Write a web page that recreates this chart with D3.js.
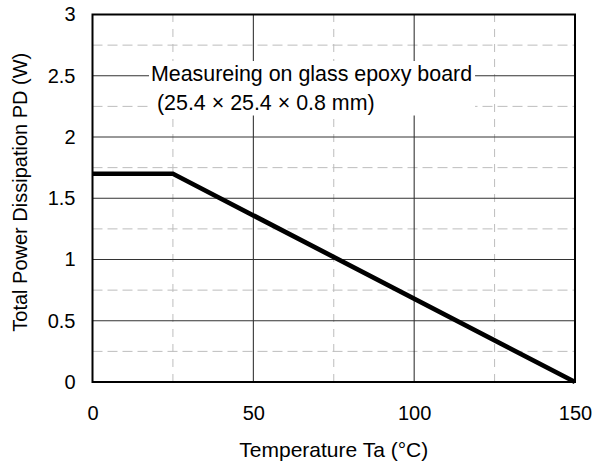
<!DOCTYPE html>
<html>
<head>
<meta charset="utf-8">
<script src="https://cdn.jsdelivr.net/npm/d3@7"></script>
<style>
  html, body { margin: 0; padding: 0; background: #fff; }
  svg { display: block; font-family: "Liberation Sans", Arial, sans-serif; }
</style>
</head>
<body>
<svg id="chart"></svg>
<script>
const width = 595,
  height = 466;

// derating curve: temperature (°C) vs total power dissipation (W)
const temps = [0, 25, 150];
const power = [1.7, 1.7, 0];

const xTicks = [0, 50, 100, 150];
const xMinor = [25, 75, 125];
const yTicks = [0, 0.5, 1, 1.5, 2, 2.5, 3];
const yMinor = [0.25, 0.75, 1.25, 1.75, 2.25, 2.75];

const xTitle = 'Temperature Ta (°C)';
const yTitle = 'Total Power Dissipation PD (W)';
const noteLines = ['Measureing on glass epoxy board', '(25.4 × 25.4 × 0.8 mm)'];

const margin = {top: 14.5, right: 20, bottom: 84, left: 92.5};

const x = d3.scaleLinear().domain([0, 150]).range([margin.left, width - margin.right]);
const y = d3.scaleLinear().domain([0, 3]).range([height - margin.bottom, margin.top]);

const svg = d3.select('#chart')
  .attr('width', width)
  .attr('height', height)
  .attr('viewBox', [0, 0, width, height]);

// minor dashed grid
svg.append('g')
  .selectAll('line')
  .data(xMinor)
  .join('line')
  .attr('x1', d => x(d)).attr('x2', d => x(d))
  .attr('y1', y(0)).attr('y2', y(3))
  .attr('stroke', '#bdbdbd').attr('stroke-dasharray', '8,7');

svg.append('g')
  .selectAll('line')
  .data(yMinor)
  .join('line')
  .attr('x1', x(0)).attr('x2', x(150))
  .attr('y1', d => y(d)).attr('y2', d => y(d))
  .attr('stroke', '#bdbdbd').attr('stroke-dasharray', '10,5');

// major solid grid
svg.append('g')
  .selectAll('line')
  .data(xTicks.slice(1, -1))
  .join('line')
  .attr('x1', d => x(d)).attr('x2', d => x(d))
  .attr('y1', y(0)).attr('y2', y(3))
  .attr('stroke', '#222');

svg.append('g')
  .selectAll('line')
  .data(yTicks.slice(1, -1))
  .join('line')
  .attr('x1', x(0)).attr('x2', x(150))
  .attr('y1', d => y(d)).attr('y2', d => y(d))
  .attr('stroke', '#333');

// note box (white background covers the grid)
const note = svg.append('g');
const noteText = note.append('text')
  .attr('font-size', 21.4)
  .attr('fill', '#000');
noteText.selectAll('tspan')
  .data(noteLines)
  .join('tspan')
  .attr('x', (d, i) => i === 0 ? 151 : 157)
  .attr('y', (d, i) => 81 + i * 28.5)
  .text(d => d);
const bb = noteText.node().getBBox();
note.insert('rect', 'text')
  .attr('x', bb.x - 2)
  .attr('y', bb.y - 1)
  .attr('width', bb.width + 5)
  .attr('height', bb.height + 2)
  .attr('fill', '#fff');

// frame
svg.append('rect')
  .attr('x', x(0)).attr('y', y(3))
  .attr('width', x(150) - x(0))
  .attr('height', y(0) - y(3))
  .attr('fill', 'none')
  .attr('stroke', '#000')
  .attr('stroke-width', 2);

// curve
const line = d3.line()
  .x((d, i) => x(temps[i]))
  .y(d => y(d));

svg.append('path')
  .datum(power)
  .attr('d', line)
  .attr('fill', 'none')
  .attr('stroke', '#000')
  .attr('stroke-width', 4.7)
  .attr('stroke-linejoin', 'miter');

// axes labels
const xAxis = d3.axisBottom(x).tickValues(xTicks).tickSize(0).tickPadding(24).tickFormat(d3.format('d'));
svg.append('g')
  .attr('transform', `translate(0,${y(0)})`)
  .call(xAxis)
  .call(g => g.select('.domain').remove())
  .call(g => g.selectAll('text').attr('font-size', 20).attr('fill', '#000').attr('font-family', null));

const yAxis = d3.axisLeft(y).tickValues(yTicks).tickSize(0).tickPadding(17).tickFormat(d => d);
svg.append('g')
  .attr('transform', `translate(${x(0)},0)`)
  .call(yAxis)
  .call(g => g.select('.domain').remove())
  .call(g => g.selectAll('text').attr('font-size', 20).attr('fill', '#000').attr('font-family', null));

// titles
svg.append('text')
  .attr('x', (x(0) + x(150)) / 2)
  .attr('y', 457)
  .attr('text-anchor', 'middle')
  .attr('font-size', 21)
  .text(xTitle);

svg.append('text')
  .attr('transform', `translate(27,${(y(0) + y(3)) / 2 - 6}) rotate(-90)`)
  .attr('text-anchor', 'middle')
  .attr('font-size', 20)
  .text(yTitle);
</script>
</body>
</html>
